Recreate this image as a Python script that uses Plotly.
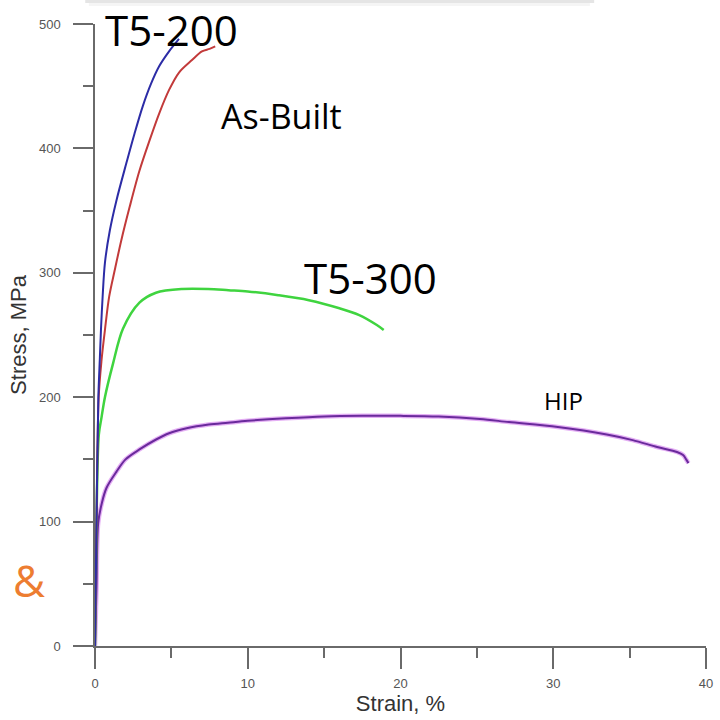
import plotly.graph_objects as go

# Engineering stress-strain curves for the four conditions
t5_200_strain = [0, 0.10, 0.22, 0.32, 0.39, 0.50, 0.65, 0.97, 1.40, 2.05, 2.59, 3.13, 3.67, 4.20, 4.85, 5.50]
t5_200_stress = [0, 100, 200, 232, 254, 281, 308, 334, 358, 388, 412, 434, 452, 466, 478, 488]

as_built_strain = [0, 0.10, 0.24, 0.43, 0.65, 0.93, 1.29, 1.72, 2.27, 2.91, 3.56, 4.20, 4.85, 5.50, 6.35, 7.00, 7.50, 7.87]
as_built_stress = [0, 100, 200, 230, 254, 281, 302, 326, 353, 382, 406, 428, 447, 461, 471, 478, 480, 482]

t5_300_strain = [0, 0.10, 0.25, 0.43, 0.65, 1.18, 1.83, 2.91, 3.99, 5.70, 7.40, 8.74, 10.0, 12.0, 14.0, 16.0, 17.3, 18.45, 18.9]
t5_300_stress = [0, 100, 170, 184, 200, 227, 255, 276, 284, 287, 287, 286, 285, 282, 278, 271.5, 266, 258, 254]

hip_strain = [0, 0.10, 0.21, 0.45, 0.75, 1.40, 2.00, 2.91, 4.00, 4.85, 6.00, 7.44, 8.70, 10.0, 12.5, 15.0, 17.5,
              20.0, 22.5, 25.2, 27.1, 30.3, 33.5, 35.2, 36.8, 38.1, 38.5, 38.7, 38.85]
hip_stress = [0, 48, 99, 115, 127, 140, 150, 158, 166, 171, 175, 178, 179.5, 181, 183, 184.5, 185,
              185, 184.5, 182.5, 180, 176, 170, 165.5, 160, 156, 153.5, 150, 147]

x_ticks = [0, 10, 20, 30, 40]
y_ticks = [0, 100, 200, 300, 400, 500]

fig = go.Figure()


def curve(x, y, color, width):
    return go.Scatter(x=x, y=y, mode="lines", cliponaxis=False,
                      line=dict(color=color, width=width, shape="spline", smoothing=0.9))


# HIP: soft magenta halo under a purple core line
fig.add_trace(curve(hip_strain, hip_stress, "rgba(205,110,235,0.55)", 4.5))
fig.add_trace(curve(hip_strain, hip_stress, "#6A2A9C", 2))
fig.add_trace(curve(t5_300_strain, t5_300_stress, "#3FD43F", 2.5))
fig.add_trace(curve(as_built_strain, as_built_stress, "#C23A3A", 2))
fig.add_trace(curve(t5_200_strain, t5_200_stress, "#2C2CA6", 2))

label_font = "Open Sans"
annotations = [
    dict(text="T5-200", x=0.1246, y=1.0386, size=42, color="black", anchor="top"),
    dict(text="As-Built", x=0.3058, y=0.8521, size=34, color="black", anchor="middle"),
    dict(text="T5-300", x=0.4515, y=0.5930, size=42, color="black", anchor="middle"),
    dict(text="HIP", x=0.7670, y=0.3939, size=24, color="black", anchor="middle"),
    dict(text="&", x=-0.1084, y=0.1061, size=44, color="#ED7D31", anchor="middle"),
]
for a in annotations:
    fig.add_annotation(text=a["text"], x=a["x"], y=a["y"], xref="paper", yref="paper", showarrow=False,
                       xanchor="center", yanchor=a["anchor"], borderpad=0,
                       font=dict(family=label_font, size=a["size"], color=a["color"]))

# faint shadow strip along the top edge
fig.add_shape(type="rect", xref="paper", yref="paper", x0=-0.016, x1=0.817, y0=1.0338, y1=1.04,
              fillcolor="rgba(0,0,0,0.10)", line=dict(width=0), layer="above")
fig.add_shape(type="rect", xref="paper", yref="paper", x0=-0.01, x1=0.81, y0=1.029, y1=1.0338,
              fillcolor="rgba(0,0,0,0.04)", line=dict(width=0), layer="above")

axis_common = dict(
    showgrid=False, zeroline=False, showline=True, linecolor="#6a6a6a", linewidth=1.5,
    ticks="outside", tickcolor="#6a6a6a", tickwidth=1.5, ticklabeloverflow="allow",
    tickfont=dict(family="Liberation Sans", size=13, color="#555555"),
    title_font=dict(family="Liberation Sans", size=22, color="#333333"),
)

fig.update_layout(
    width=720, height=720,
    margin=dict(l=95, r=7, t=24, b=74),
    paper_bgcolor="white", plot_bgcolor="white",
    showlegend=False,
    xaxis=dict(range=[0, 40], tickvals=x_ticks, ticklen=21, ticklabelstandoff=4,
               minor=dict(tick0=0, dtick=5, ticks="outside", ticklen=10, tickcolor="#6a6a6a", tickwidth=1.5),
               title=dict(text="Strain, %", standoff=3), **axis_common),
    yaxis=dict(range=[0, 500], tickvals=y_ticks, ticklen=20, ticklabelstandoff=10,
               minor=dict(tick0=0, dtick=50, ticks="outside", ticklen=10, tickcolor="#6a6a6a", tickwidth=1.5),
               title=dict(text="Stress, MPa", standoff=6), **axis_common),
)

fig.write_html("out.html")
